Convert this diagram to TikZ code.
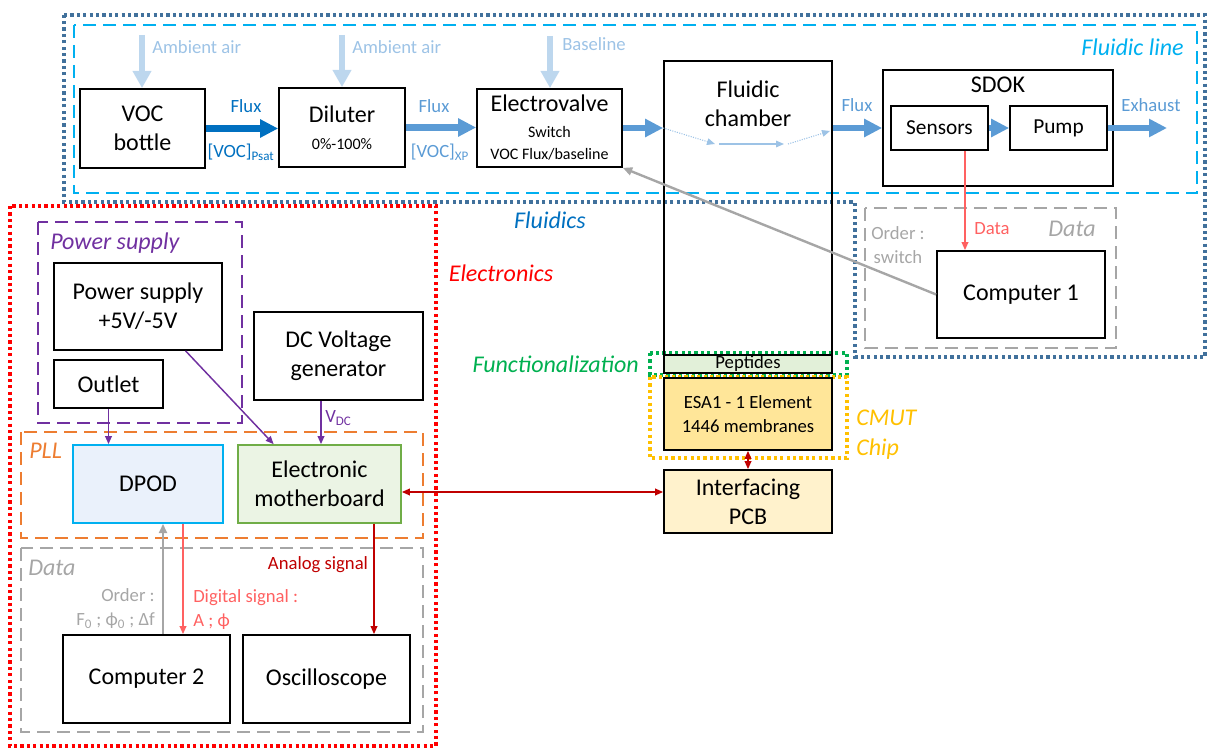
\documentclass[tikz,border=0pt]{standalone}
\usepackage{fontspec}
\setmainfont{Carlito}
\usetikzlibrary{arrows.meta, positioning}
\definecolor{ink}{HTML}{000000}
\definecolor{fdeep}{HTML}{0070C0}
\definecolor{fmid}{HTML}{5B9BD5}
\definecolor{flite}{HTML}{BDD7EE}
\definecolor{ftext}{HTML}{9DC3E6}
\definecolor{fcyan}{HTML}{00B0F0}
\definecolor{fsteel}{HTML}{41719C}
\definecolor{ered}{HTML}{FF0000}
\definecolor{edark}{HTML}{C00000}
\definecolor{epink}{HTML}{FF6161}
\definecolor{epurple}{HTML}{7030A0}
\definecolor{eorange}{HTML}{ED7D31}
\definecolor{egray}{HTML}{A6A6A6}
\definecolor{fgreen}{HTML}{00B050}
\definecolor{cgold}{HTML}{FFC000}
\definecolor{pgreen}{HTML}{E2F0D9}
\definecolor{bgreen}{HTML}{70AD47}
\definecolor{pblue}{HTML}{EAF1FB}
\definecolor{pgold}{HTML}{FFE699}
\definecolor{pcream}{HTML}{FFF2CC}
\tikzset{
  bx/.style 2 args={draw=ink, line width=1.3pt, fill=white, minimum width=#1*0.75pt,
    minimum height=#2*0.75pt, inner sep=0pt, align=center, font=\fontsize{18}{22}\selectfont},
  dotline/.style={line width=2.4pt, dash pattern=on 2.4pt off 2.4pt},
  dashline/.style={line width=1.8pt, dash pattern=on 10pt off 5pt},
  fat/.style={line width=5.2pt, -{Triangle[length=13.5pt,width=13pt]}},
  wire/.style={line width=1.1pt, -{Triangle[length=6pt,width=5pt]}},
  tag/.style={inner sep=0pt, font=\fontsize{14}{18}\selectfont},
  gtag/.style={inner sep=0pt, font=\fontsize{18}{22.5}\selectfont\itshape}
}
\begin{document}
\begin{tikzpicture}[x=0.75pt,y=-0.75pt]
  \useasboundingbox (0,0) rectangle (1208,749);
  % groups
  \draw[fsteel,dotline] (64,15) -- (1205,15) -- (1205,357) -- (855,357) -- (855,202) -- (64,202) -- cycle;
  \draw[fcyan,dashline] (74,25) rectangle (1197,193);
  \draw[ered,dotline] (10,206) rectangle (436,746);
  \draw[epurple,dashline] (38,222) rectangle (242,423);
  \draw[eorange,dashline] (21,432) rectangle (423,538);
  \draw[egray,dashline] (21,548) rectangle (423,732);
  \draw[egray,dashline] (865,208) rectangle (1116,348);
  \draw[fgreen,dotline] (650,353) rectangle (847,375);
  \draw[cgold,dotline] (650,377) rectangle (847,458);
  \node[gtag,fcyan,anchor=east] (lfline) at (1184,47) {Fluidic line};
  \node[gtag,fdeep] (lfluid) at (550,220) {Fluidics};
  \node[gtag,ered] (lelec) at (501,273) {Electronics};
  \node[gtag,epurple,anchor=west] (lpower) at (50,243) {Power supply};
  \node[gtag,eorange,anchor=west] (lpll) at (29,451) {PLL};
  \node[gtag,egray,anchor=west] (ldatab) at (28,568) {Data};
  \node[gtag,egray] (ldatar) at (1072,229) {Data};
  \node[gtag,fgreen,anchor=east] (lfunc) at (639,364) {Functionalization};
  \node[gtag,cgold,anchor=west,align=left] (lcmut) at (856,435) {CMUT\\Chip};
  % fluidic line
  \node[bx={125}{79}] (voc) at (142.5,128.5) {VOC\\bottle};
  \node[bx={126}{79}] (dil) at (342,127.5) {Diluter\\[-2pt]\fontsize{12}{15}\selectfont 0\%-100\%};
  \node[bx={145}{78}] (ev) at (549.5,128) {Electrovalve\\[-3pt]\fontsize{12}{15}\selectfont Switch\\[-5pt]\fontsize{12}{15}\selectfont VOC Flux/baseline};
  \node[bx={168}{294},fill=none] (fch) at (748,208) {};
  \node[align=center,font=\fontsize{18}{22}\selectfont] (fchtxt) at (748,104) {Fluidic\\chamber};
  \node[bx={230}{116}] (sdok) at (998,128) {};
  \node[font=\fontsize{18}{22}\selectfont] (sdoktxt) at (998,85) {SDOK};
  \node[bx={97}{44},font=\fontsize{16}{19}\selectfont] (sens) at (939.5,128) {Sensors};
  \node[bx={97}{44},font=\fontsize{16}{19}\selectfont] (pump) at (1058.5,128) {Pump};
  \node[bx={168}{87}] (pc1) at (1021,294.5) {Computer 1};
  % chip stack
  \node[bx={168}{18},fill=pgreen,font=\fontsize{14}{16}\selectfont] (pept) at (748,364) {Peptides};
  \node[bx={168}{72},fill=pgold,font=\fontsize{14}{18}\selectfont] (esa) at (748,414) {ESA1 - 1 Element\\1446 membranes};
  \node[bx={168}{63},fill=pcream] (pcb) at (748,501.5) {Interfacing\\PCB};
  % electronics
  \node[bx={168}{87}] (psu) at (138,306.5) {Power supply\\+5V/-5V};
  \node[bx={109}{48}] (outlet) at (108.5,384) {Outlet};
  \node[bx={169}{88}] (dcv) at (338.5,356) {DC Voltage\\generator};
  \node[bx={150}{78},draw=fcyan,fill=pblue] (dpod) at (148,484) {DPOD};
  \node[bx={163}{78},draw=bgreen,fill=pgreen!70] (mobo) at (319.5,484) {Electronic\\motherboard};
  \node[bx={167}{88}] (pc2) at (146.5,679) {Computer 2};
  \node[bx={167}{88}] (osc) at (326.5,679) {Oscilloscope};
  % flux arrows
  \coordinate (amb1) at (142,35);\coordinate (amb2) at (342,35);\coordinate (base) at (550,36);
  \foreach \c/\n in {amb1/voc,amb2/dil,base/ev}{
     \draw[flite,line width=4.5pt,-{Triangle[length=13pt,width=13.5pt]}] (\c) -- (\c |- \n.north);}
  \node[tag,ftext,anchor=west] (lamb1) at (152,47) {Ambient air};
  \node[tag,ftext,anchor=west] (lamb2) at (352,47) {Ambient air};
  \node[tag,ftext,anchor=west] (lbase) at (562,44) {Baseline};
  \draw[fat,fdeep] (voc.east) -- (voc.east -| dil.west);
  \draw[fat,fmid] (dil.east) -- (dil.east -| ev.west);
  \draw[fat,fmid] (ev.east) -- (ev.east -| fch.west);
  \draw[fat,fmid] (fch.east |- sens) -- (sdok.west |- sens);
  \draw[fat,fmid] (sens.east) -- (pump.west);
  \coordinate (exh) at (1167,128);
  \draw[fat,fmid] (pump.east) -- (exh);
  \node[tag,fdeep] (lflux1) at (246,106) {Flux};
  \node[tag,fdeep] (lvoc1) at (241,152) {[VOC]\textsubscript{Psat}};
  \node[tag,fmid] (lflux2) at (434,106) {Flux};
  \node[tag,fmid] (lvoc2) at (440,152) {[VOC]\textsubscript{XP}};
  \node[tag,fmid] (lflux3) at (857,105) {Flux};
  \node[tag,fmid] (lexh) at (1151,105) {Exhaust};
  % inside the chamber
  \coordinate (ch2) at (715,144);\coordinate (ch3) at (719,144);
  \coordinate (ch4) at (784,144);\coordinate (ch5) at (788,144);\coordinate (ch6) at (830,131);
  \draw[ftext,line width=0.8pt,densely dotted,-{Triangle[length=6pt,width=5pt]}] (ev.east -| fch.west) -- (ch2);
  \draw[ftext,line width=0.8pt,-{Triangle[length=6pt,width=5pt]}] (ch3) -- (ch4);
  \draw[ftext,line width=0.8pt,densely dotted,-{Triangle[length=6pt,width=5pt]}] (ch5) -- (ch6);
  % data, fluidics side
  \coordinate (dx) at (965,0);
  \draw[wire,epink] (sens.south -| dx) -- (pc1.north -| dx);
  \node[tag,epink] (ldata1) at (992,229) {Data};
  \node[tag,egray,align=center] (lorder1) at (898,245) {Order :\\switch};
  \draw[egray,line width=1.8pt,-{Triangle[length=7pt,width=6pt]}] (pc1.west) -- (ev.south east);
  % electronics wiring
  \draw[wire,epurple] (outlet.south) -- (outlet.south |- dpod.north);
  \draw[wire,epurple] (psu.-43) -- (mobo.139);
  \coordinate (vx) at (321,0);
  \draw[wire,epurple] (dcv.south -| vx) -- (mobo.north -| vx);
  \node[tag,epurple,anchor=west] (lvdc) at (325,418) {V\textsubscript{DC}};
  \draw[wire,edark,{Triangle[length=6pt,width=5pt]}-{Triangle[length=6pt,width=5pt]}] (esa.south) -- (pcb.north);
  \coordinate (ln) at (0,492);
  \draw[wire,edark,{Triangle[length=6pt,width=5pt]}-{Triangle[length=6pt,width=5pt]}] (mobo.east |- ln) -- (pcb.west |- ln);
  \coordinate (gx) at (163,0);\coordinate (rx) at (183,0);\coordinate (ax) at (374,0);
  \draw[egray,line width=1.8pt,-{Triangle[length=7pt,width=6pt]}] (pc2.north -| gx) -- (dpod.south -| gx);
  \draw[wire,epink] (dpod.south -| rx) -- (pc2.north -| rx);
  \draw[wire,edark] (mobo.south -| ax) -- (osc.north -| ax);
  \node[tag,egray,anchor=east,align=right] (lorder2) at (155,609) {Order :\\F\textsubscript{0} ; ϕ\textsubscript{0} ; Δf};
  \node[tag,epink,anchor=west,align=left] (ldigit) at (193,610) {Digital signal :\\A ; ϕ};
  \node[tag,edark] (lanalog) at (318,565) {Analog signal};
\end{tikzpicture}
\end{document}
